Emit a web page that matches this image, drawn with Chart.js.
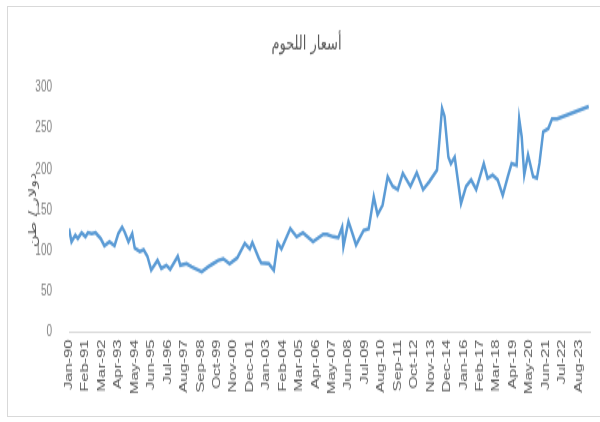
<!DOCTYPE html>
<html>
<head>
<meta charset="utf-8">
<script src="https://cdn.jsdelivr.net/npm/chart.js@4"></script>
<style>
  html, body { margin: 0; padding: 0; background: #fff; }
  body { width: 600px; height: 422px; position: relative; overflow: hidden; }
  .frame { position: absolute; left: 7px; top: 6px; width: 594px; height: 411px; border: 1px solid #d9d9d9; box-sizing: border-box; }
  .wrap { position: absolute; left: 0; top: 0; width: 600px; height: 281px; transform: scaleY(1.5); transform-origin: 0 0; }
</style>
</head>
<body>
<div class="frame"></div>
<div class="wrap"><canvas id="meatChart"></canvas></div>
<script>
const chartTitle = 'أسعار اللحوم';
const yTitle = 'دولار / طن';

const months = [
    '1990-01', '1990-03', '1990-06', '1990-08', '1990-11', '1991-02', '1991-04', '1991-07', '1991-10', '1992-02',
    '1992-05', '1992-09', '1993-01', '1993-04', '1993-07', '1993-09', '1993-12', '1994-03', '1994-05', '1994-09',
    '1994-12', '1995-03', '1995-06', '1995-11', '1996-02', '1996-06', '1996-09', '1997-03', '1997-05', '1997-10',
    '1998-02', '1998-10', '1999-03', '1999-07', '1999-11',
    '2000-03', '2000-08', '2001-02', '2001-08', '2001-12', '2002-02', '2002-07', '2002-09', '2003-03',
    '2003-07', '2003-10', '2004-01', '2004-08', '2005-01', '2005-06', '2006-02', '2006-10', '2007-01', '2007-06',
    '2007-10', '2008-01', '2008-02', '2008-06', '2008-10', '2008-12', '2009-06', '2009-10', '2010-02', '2010-05',
    '2010-09', '2011-01', '2011-05', '2011-09', '2012-01', '2012-07', '2012-12', '2013-05', '2013-10', '2014-04',
    '2014-08', '2014-10', '2015-01', '2015-03', '2015-06', '2015-11', '2016-03', '2016-07', '2016-11', '2017-05',
    '2017-08', '2017-12', '2018-04', '2018-08', '2018-12', '2019-03', '2019-07', '2019-09', '2019-11', '2020-01',
    '2020-04', '2020-08', '2020-11', '2021-01', '2021-04', '2021-08', '2021-11', '2022-03', '2024-04'
];
const prices = [
    127, 111, 119, 115, 122, 117, 122, 121, 122, 115,
    106, 111, 106, 121, 129, 123, 111, 121, 103, 99,
    101, 93, 76, 88, 78, 82, 77, 93, 82, 84,
    80, 74, 80, 84, 88,
    90, 84, 91, 109, 102, 110, 91, 85, 84,
    76, 110, 102, 127, 117, 122, 111, 120, 120, 117,
    116, 129, 105, 136, 117, 107, 125, 127, 166, 144,
    156, 191, 179, 175, 195, 179, 196, 175, 185, 199,
    275, 265, 215, 207, 215, 158, 179, 187, 175, 207,
    189, 193, 187, 168, 191, 207, 205, 262, 240, 193,
    218, 191, 189, 207, 246, 250, 262, 262, 277
];

// every 13th month gets a label, as in the original
const tickLabels = [
    'Jan-90', 'Feb-91', 'Mar-92', 'Apr-93', 'May-94', 'Jun-95', 'Jul-96', 'Aug-97',
    'Sep-98', 'Oct-99', 'Nov-00', 'Dec-01', 'Jan-03', 'Feb-04', 'Mar-05', 'Apr-06',
    'May-07', 'Jun-08', 'Jul-09', 'Aug-10', 'Sep-11', 'Oct-12', 'Nov-13', 'Dec-14',
    'Jan-16', 'Feb-17', 'Mar-18', 'Apr-19', 'May-20', 'Jun-21', 'Jul-22', 'Aug-23'
];
const labelStep = 13;
const yTicks = [0, 50, 100, 150, 200, 250, 300];

function monthIndex(s) {
    const [y, m] = s.split('-').map(Number);
    return (y - 1990) * 12 + (m - 1);
}

const points = months.map((m, i) => ({ x: monthIndex(m), y: prices[i] }));

const meatChart = new Chart(document.getElementById('meatChart'), {
    type: 'line',
    data: {
        datasets: [{
            data: points,
            borderColor: '#5b9bd5',
            borderWidth: 2.5,
            pointRadius: 0,
            tension: 0,
            fill: false
        }]
    },
    options: {
        responsive: true,
        maintainAspectRatio: false,
        animation: false,
        layout: { padding: { left: 23, right: 10, top: 4, bottom: 2 } },
        plugins: {
            legend: { display: false },
            tooltip: { enabled: false },
            title: {
                display: true,
                text: chartTitle,
                color: '#595959',
                font: { family: 'DejaVu Sans', size: 13, weight: 'normal' },
                padding: { top: 18, bottom: 21 }
            }
        },
        scales: {
            x: {
                type: 'linear',
                min: 0,
                max: 412,
                afterBuildTicks: (scale) => {
                    scale.ticks = tickLabels.map((t, i) => ({ value: i * labelStep }));
                },
                afterFit: (scale) => { scale.height = 57.7; },
                ticks: {
                    autoSkip: false,
                    minRotation: 90,
                    maxRotation: 90,
                    padding: 5,
                    color: '#595959',
                    font: { family: 'Liberation Sans', size: 11 },
                    callback: (v) => tickLabels[Math.round(v / labelStep)]
                },
                grid: { drawOnChartArea: false, drawTicks: false },
                border: { color: '#d9d9d9' }
            },
            y: {
                min: yTicks[0],
                max: yTicks[yTicks.length - 1],
                afterBuildTicks: (scale) => {
                    scale.ticks = yTicks.map(v => ({ value: v }));
                },
                afterFit: (scale) => { scale.width = 46; },
                ticks: {
                    padding: 17,
                    color: '#7f7f7f',
                    font: { family: 'Liberation Sans', size: 10 }
                },
                grid: { display: false, drawTicks: false },
                border: { display: false },
                title: {
                    display: true,
                    text: yTitle,
                    color: '#595959',
                    font: { family: 'DejaVu Sans', size: 11 }
                }
            }
        }
    }
});
</script>
</body>
</html>
